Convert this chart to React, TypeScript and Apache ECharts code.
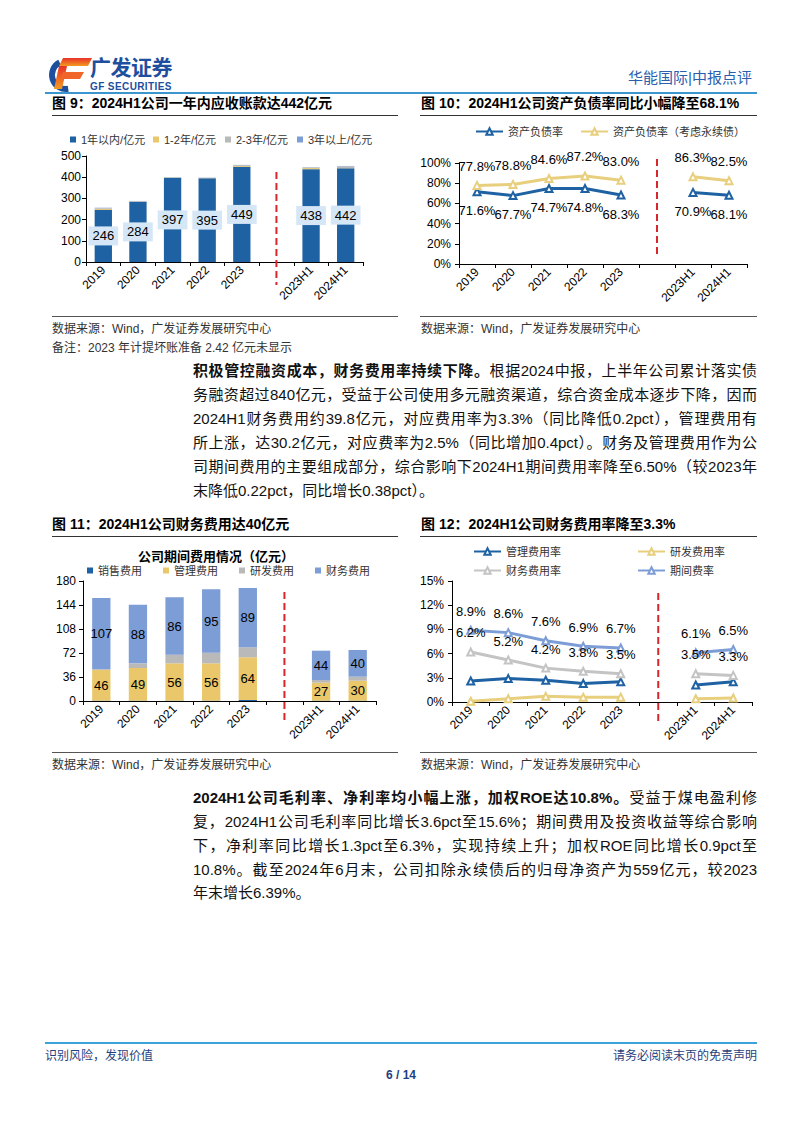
import React, { useEffect, useRef } from "react";
import * as echarts from "echarts";

const FF = "'Liberation Sans', Arial, 'Noto Sans CJK SC', sans-serif";

// shared categories (empty slot = gap marked by red dashed line)
const categories = ["2019", "2020", "2021", "2022", "2023", "", "2023H1", "2024H1"];
const gapIndex = 5;

// Fig 9: receivables by age (亿元)
const ar1yr = [246, 284, 397, 395, 449, null, 438, 442];
const ar1to2 = [5, 1, 1, 1, 4, null, 5, 1];
const ar2to3 = [3, 2, 1, 1, 4, null, 3, 8];
const ar3plus = [2, 1, 0.5, 1, 1, null, 1, 2];

// Fig 10: debt ratio (%)
const debtRatio = [71.6, 67.7, 74.7, 74.8, 68.3, null, 70.9, 68.1];
const debtRatioPerp = [77.8, 78.8, 84.6, 87.2, 83.0, null, 86.3, 82.5];

// Fig 11: period expenses (亿元)
const salesExp = [0.5, 0.5, 0.5, 0.5, 1.5, null, 0.5, 0.5];
const adminExp = [46, 49, 56, 56, 64, null, 27, 30];
const rdExp = [1, 7, 13, 16, 15, null, 4, 6];
const finExp = [107, 88, 86, 95, 89, null, 44, 40];

// Fig 12: expense ratios (%)
const adminRate = [2.6, 2.9, 2.7, 2.3, 2.5, null, 2.1, 2.5];
const rdRate = [0.1, 0.4, 0.7, 0.6, 0.6, null, 0.4, 0.5];
const finRate = [6.2, 5.2, 4.2, 3.8, 3.5, null, 3.5, 3.3];
const periodRate = [8.9, 8.6, 7.6, 6.9, 6.7, null, 6.1, 6.5];

// axis ranges
const yRange9 = [0, 500, 100];
const yRange10 = [0, 100, 20];
const yRange11 = [0, 180, 36];
const yRange12 = [0, 15, 3];

const C_DARK = "#1f62a3";
const C_YEL = "#e9c76a";
const C_GRAY = "#b9b9b9";
const C_LBLUE = "#7d9dd6";
const C_LYEL = "#e8cf7e";

const axisText = { color: "#000", fontSize: 12, fontFamily: FF };

function xAxis(gridIndex: number) {
  return {
    type: "category",
    gridIndex,
    data: categories,
    boundaryGap: true,
    axisLine: { show: true, lineStyle: { color: "#000", width: 1 } },
    axisTick: { show: true, length: 4, interval: 0, lineStyle: { color: "#000" } },
    axisLabel: { ...axisText, rotate: 45, interval: 0, margin: 6 },
    splitLine: { show: false },
  };
}

function yAxis(gridIndex: number, r: number[], pct: boolean, margin: number) {
  return {
    type: "value",
    gridIndex,
    min: r[0],
    max: r[1],
    interval: r[2],
    axisLine: { show: true, lineStyle: { color: "#000", width: 1 } },
    axisTick: { show: true, length: 4, lineStyle: { color: "#000" } },
    axisLabel: { ...axisText, margin, formatter: pct ? "{value}%" : "{value}" },
    splitLine: { show: false },
  };
}

function legendItem(name: string, left: number, cy: number, line: boolean) {
  return {
    data: [name],
    left,
    top: cy - 7,
    padding: 0,
    itemGap: 0,
    icon: line ? undefined : "rect",
    itemWidth: line ? 27 : 6,
    itemHeight: line ? 8 : 6,
    textStyle: { fontSize: 11, color: "#333", fontFamily: FF },
    selectedMode: false,
  };
}

const pctFmt = (p: any) => (p.value == null ? "" : Number(p.value).toFixed(1) + "%");

function lineSeries(name: string, data: (number | null)[], color: string, idx: number, labelPos?: string) {
  return {
    type: "line",
    name,
    data,
    xAxisIndex: idx,
    yAxisIndex: idx,
    symbol: "emptyTriangle",
    symbolSize: 7,
    showAllSymbol: true,
    connectNulls: false,
    lineStyle: { color, width: 3 },
    itemStyle: { color, borderColor: color, borderWidth: 1.2 },
    label: {
      show: !!labelPos,
      position: labelPos || "top",
      distance: 8,
      formatter: pctFmt,
      color: "#000",
      fontSize: 13,
      fontFamily: FF,
    },
  };
}

function barSeries(name: string, data: (number | null)[], color: string, idx: number, stack: string, label: any) {
  return {
    type: "bar",
    name,
    data,
    xAxisIndex: idx,
    yAxisIndex: idx,
    stack,
    barWidth: "50%",
    itemStyle: { color },
    label: label || { show: false },
  };
}

function buildOption() {
  return {
    animation: false,
    backgroundColor: "transparent",
    textStyle: { fontFamily: FF },
    grid: [
      { left: 86, top: 156, width: 277, height: 106, containLabel: false, outerBoundsMode: "none" },
      { left: 459, top: 163, width: 288, height: 101, containLabel: false, outerBoundsMode: "none" },
      { left: 83, top: 581, width: 293, height: 120, containLabel: false, outerBoundsMode: "none" },
      { left: 452, top: 581, width: 300, height: 121, containLabel: false, outerBoundsMode: "none" },
    ],
    xAxis: [xAxis(0), xAxis(1), xAxis(2), xAxis(3)],
    yAxis: [
      yAxis(0, yRange9, false, 5),
      yAxis(1, yRange10, true, 8),
      yAxis(2, yRange11, false, 7),
      yAxis(3, yRange12, true, 8),
    ],
    legend: [
      legendItem("1年以内/亿元", 70, 141, false),
      legendItem("1-2年/亿元", 153, 141, false),
      legendItem("2-3年/亿元", 225, 141, false),
      legendItem("3年以上/亿元", 297, 141, false),
      legendItem("资产负债率", 475, 133, true),
      legendItem("资产负债率（考虑永续债）", 580, 133, true),
      legendItem("销售费用", 87, 572, false),
      legendItem("管理费用", 163, 572, false),
      legendItem("研发费用", 239, 572, false),
      legendItem("财务费用", 315, 572, false),
      legendItem("管理费用率", 473, 553, true),
      legendItem("研发费用率", 637, 553, true),
      legendItem("财务费用率", 473, 572, true),
      legendItem("期间费率", 637, 572, true),
    ],
    series: [
      barSeries("1年以内/亿元", ar1yr, C_DARK, 0, "ar", {
        show: true,
        position: "inside",
        color: "#000",
        fontSize: 13,
        fontFamily: FF,
        backgroundColor: "#d5e6f6",
        padding: [3, 4],
        formatter: "{c}",
      }),
      barSeries("1-2年/亿元", ar1to2, C_YEL, 0, "ar", null),
      barSeries("2-3年/亿元", ar2to3, C_GRAY, 0, "ar", null),
      barSeries("3年以上/亿元", ar3plus, C_LBLUE, 0, "ar", null),

      lineSeries("资产负债率", debtRatio, C_DARK, 1, "bottom"),
      lineSeries("资产负债率（考虑永续债）", debtRatioPerp, C_LYEL, 1, "top"),

      barSeries("销售费用", salesExp, C_DARK, 2, "fee", null),
      barSeries("管理费用", adminExp, C_YEL, 2, "fee", {
        show: true, position: "inside", color: "#000", fontSize: 13, fontFamily: FF, formatter: "{c}",
      }),
      barSeries("研发费用", rdExp, C_GRAY, 2, "fee", null),
      barSeries("财务费用", finExp, C_LBLUE, 2, "fee", {
        show: true, position: "inside", color: "#000", fontSize: 13, fontFamily: FF, formatter: "{c}",
      }),

      lineSeries("研发费用率", rdRate, C_LYEL, 3),
      lineSeries("管理费用率", adminRate, C_DARK, 3),
      lineSeries("财务费用率", finRate, "#c4c4c4", 3, "top"),
      lineSeries("期间费率", periodRate, C_LBLUE, 3, "top"),
    ],
  };
}

function logoGraphics() {
  const red = new echarts.graphic.LinearGradient(0, 0, 0, 1, [
    { offset: 0, color: "#e8312a" },
    { offset: 1, color: "#f39a1f" },
  ]);
  return [
    {
      type: "arc",
      shape: { cx: 66, cy: 75, r: 14, startAngle: Math.PI * 0.45, endAngle: Math.PI * 1.35, clockwise: true },
      style: { stroke: "#1c4f9e", lineWidth: 6, fill: null },
    },
    { type: "polygon", shape: { points: [[63, 58], [92, 58], [88, 66], [59, 66]] }, style: { fill: red } },
    { type: "polygon", shape: { points: [[59, 66], [67, 66], [62, 89], [54, 89]] }, style: { fill: red } },
    { type: "polygon", shape: { points: [[63, 72], [84, 72], [80, 79], [61, 79]] }, style: { fill: "#f0662a" } },
  ];
}

const redSpans = [
  [172, 285],
  [159, 257],
  [592, 724],
  [593, 724],
];

type TProps = { x: number; cy: number; size: number; children: any; style?: any };
function T({ x, cy, size, children, style }: TProps) {
  const lh = Math.round(size * 1.5);
  return (
    <div
      style={{
        position: "absolute",
        left: x,
        top: cy - lh / 2,
        height: lh,
        lineHeight: lh + "px",
        fontSize: size,
        whiteSpace: "nowrap",
        ...style,
      }}
    >
      {children}
    </div>
  );
}

function HLine({ x1, x2, y, color, w }: { x1: number; x2: number; y: number; color: string; w: number }) {
  return <div style={{ position: "absolute", left: x1, top: y - w / 2, width: x2 - x1, height: w, background: color }} />;
}

const PX = 193;
const PW = 564;
function PLine({ cy, children, last }: { cy: number; children: any; last?: boolean }) {
  return (
    <div
      style={{
        position: "absolute",
        left: PX,
        top: cy - 12,
        width: PW,
        height: 24,
        lineHeight: "24px",
        fontSize: 15,
        color: "#111",
        whiteSpace: "nowrap",
        textAlign: last ? "left" : "justify",
        textAlignLast: last ? "left" : "justify",
      } as any}
    >
      {children}
    </div>
  );
}

export default function App() {
  const ref = useRef<HTMLDivElement>(null);
  useEffect(() => {
    if (!ref.current) return;
    const chart = echarts.init(ref.current, null, { renderer: "svg" });
    chart.setOption(buildOption() as any);
    const grids = [
      [86, 277],
      [459, 288],
      [83, 293],
      [452, 300],
    ];
    const redLines = redSpans.map((span, i) => {
      let x = chart.convertToPixel({ xAxisIndex: i } as any, gapIndex) as any;
      if (typeof x !== "number" || isNaN(x)) {
        x = grids[i][0] + (grids[i][1] * (gapIndex + 0.5)) / categories.length;
      }
      return {
        type: "line",
        shape: { x1: x, y1: span[0], x2: x, y2: span[1] },
        style: { stroke: "#d7262c", lineWidth: 2, lineDash: [7, 4] },
        z: 100,
      };
    });
    chart.setOption({
      graphic: [
        ...logoGraphics(),
        {
          type: "text",
          x: 216,
          y: 556,
          style: {
            text: "公司期间费用情况（亿元）",
            fill: "#000",
            font: "bold 13px " + FF,
            align: "center",
            verticalAlign: "middle",
          },
        },
        ...redLines,
      ],
    } as any);
    return () => chart.dispose();
  }, []);

  const src = "数据来源：Wind，广发证券发展研究中心";
  return (
    <div
      style={{
        position: "absolute",
        left: 0,
        top: 0,
        width: 802,
        height: 1133,
        background: "#fff",
        overflow: "hidden",
        fontFamily: FF,
        color: "#000",
      }}
    >
      {/* header */}
      <T x={90} cy={68} size={21} style={{ fontWeight: "bold", color: "#1d4f9e", letterSpacing: -0.5 }}>广发证券</T>
      <T x={90} cy={86} size={10} style={{ fontWeight: "bold", color: "#1d4f9e", letterSpacing: 0.4 }}>GF SECURITIES</T>
      <T x={628} cy={77} size={15} style={{ color: "#2b5fae" }}>华能国际|中报点评</T>
      <HLine x1={45} x2={757} y={93} color="#3b96cf" w={1.5} />

      {/* figure titles row 1 */}
      <T x={52} cy={103} size={14} style={{ fontWeight: "bold" }}>图 9：2024H1公司一年内应收账款达442亿元</T>
      <T x={421} cy={103} size={14} style={{ fontWeight: "bold" }}>图 10：2024H1公司资产负债率同比小幅降至68.1%</T>
      <HLine x1={52} x2={398} y={115} color="#333" w={1} />
      <HLine x1={420} x2={757} y={115} color="#333" w={1} />

      {/* sources row 1 */}
      <HLine x1={52} x2={398} y={316} color="#555" w={1} />
      <HLine x1={420} x2={757} y={316} color="#555" w={1} />
      <T x={52} cy={329} size={12} style={{ color: "#333" }}>{src}</T>
      <T x={52} cy={348} size={12} style={{ color: "#333" }}>备注：2023 年计提坏账准备 2.42 亿元未显示</T>
      <T x={421} cy={329} size={12} style={{ color: "#333" }}>{src}</T>

      {/* paragraph 1 */}
      <PLine cy={371}><b>积极管控融资成本，财务费用率持续下降。</b>根据2024中报，上半年公司累计落实债</PLine>
      <PLine cy={395}>务融资超过840亿元，受益于公司使用多元融资渠道，综合资金成本逐步下降，因而</PLine>
      <PLine cy={419}>2024H1财务费用约39.8亿元，对应费用率为3.3%（同比降低0.2pct），管理费用有</PLine>
      <PLine cy={443}>所上涨，达30.2亿元，对应费率为2.5%（同比增加0.4pct）。财务及管理费用作为公</PLine>
      <PLine cy={467}>司期间费用的主要组成部分，综合影响下2024H1期间费用率降至6.50%（较2023年</PLine>
      <PLine cy={491} last>末降低0.22pct，同比增长0.38pct）。</PLine>

      {/* figure titles row 2 */}
      <T x={52} cy={524} size={14} style={{ fontWeight: "bold" }}>图 11：2024H1公司财务费用达40亿元</T>
      <T x={421} cy={524} size={14} style={{ fontWeight: "bold" }}>图 12：2024H1公司财务费用率降至3.3%</T>
      <HLine x1={52} x2={398} y={536} color="#333" w={1} />
      <HLine x1={420} x2={757} y={536} color="#333" w={1} />

      {/* sources row 2 */}
      <HLine x1={52} x2={398} y={752} color="#555" w={1} />
      <HLine x1={420} x2={757} y={752} color="#555" w={1} />
      <T x={52} cy={765} size={12} style={{ color: "#333" }}>{src}</T>
      <T x={421} cy={765} size={12} style={{ color: "#333" }}>{src}</T>

      {/* paragraph 2 */}
      <PLine cy={798}><b>2024H1公司毛利率、净利率均小幅上涨，加权ROE达10.8%。</b>受益于煤电盈利修</PLine>
      <PLine cy={822}>复，2024H1公司毛利率同比增长3.6pct至15.6%；期间费用及投资收益等综合影响</PLine>
      <PLine cy={846}>下，净利率同比增长1.3pct至6.3%，实现持续上升；加权ROE同比增长0.9pct至</PLine>
      <PLine cy={870}>10.8%。截至2024年6月末，公司扣除永续债后的归母净资产为559亿元，较2023</PLine>
      <PLine cy={893} last>年末增长6.39%。</PLine>

      {/* footer */}
      <HLine x1={45} x2={757} y={1043} color="#3ba3d9" w={1.5} />
      <T x={45} cy={1056} size={12} style={{ color: "#1f3f80" }}>识别风险，发现价值</T>
      <T x={613} cy={1056} size={12} style={{ color: "#1f3f80", width: 144, textAlign: "right" }}>请务必阅读末页的免责声明</T>
      <T x={371} cy={1075} size={12} style={{ color: "#1f3f80", width: 60, textAlign: "center", fontWeight: "bold" }}>6 / 14</T>

      <div ref={ref} style={{ position: "absolute", left: 0, top: 0, width: 802, height: 1133 }} />
    </div>
  );
}
